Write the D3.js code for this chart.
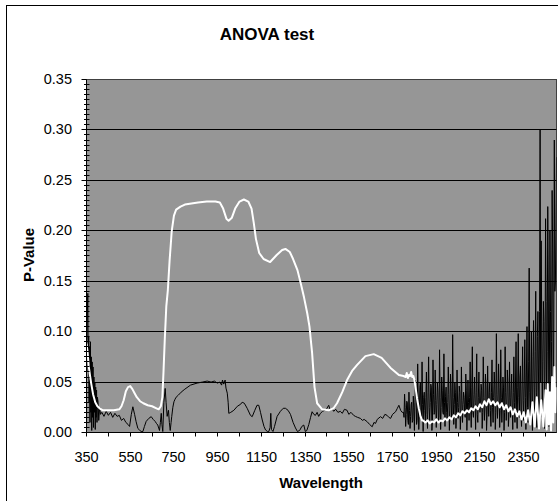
<!DOCTYPE html>
<html><head><meta charset="utf-8">
<script src="https://cdn.jsdelivr.net/npm/d3@7"></script>
<style>
html,body{margin:0;padding:0;background:#fff;}
svg{display:block;}
text{font-family:"Liberation Sans",Arial,sans-serif;fill:#000;}
</style></head>
<body><svg id="c" width="558" height="501"></svg>
<script>
// ---------------- data ----------------
const chartTitle = "ANOVA test";
const xTitle = "Wavelength";
const yTitle = "P-Value";
const xTickValues = [350,450,550,650,750,850,950,1050,1150,1250,1350,1450,1550,1650,1750,1850,1950,2050,2150,2250,2350,2450];
const xTickLabels = [350,550,750,950,1150,1350,1550,1750,1950,2150,2350];
const yTickValues = [0,0.05,0.10,0.15,0.20,0.25,0.30,0.35];
const yGridValues = [0.05,0.10,0.15,0.20,0.25,0.30];

// white series
const whiteWl = [350,355,360,365,372,380,390,400,410,425,450,475,500,510,520,530,540,550,560,570,580,595,610,630,650,670,680,690,697,702,708,715,722,730,740,750,760,780,800,830,860,900,940,960,975,990,1000,1015,1030,1050,1070,1090,1105,1115,1125,1140,1160,1190,1220,1245,1260,1280,1295,1315,1330,1345,1360,1370,1382,1393,1405,1428,1458,1480,1496,1520,1542,1565,1588,1626,1664,1700,1741,1779,1800,1810,1815,1820,1825,1830,1835,1840,1845,1850,1855,1862,1870,1878,1885,
1890,1900,1910,1920,1930,1940,1950,1960,1970,1980,1990,2000,2010,2020,2030,2040,2050,2060,2070,2080,2090,2100,2110,2120,2130,2140,2150,2160,2170,2180,2190,2200,2210,2220,2230,2240,2250,2260,2270,2280,2290,2300,2310,2320,2330,2340,2350,2360,2370,2380,2390,2400,2410,2420,2430,2440,2450,2455,2460,2465,2470,2475,2480,2485,2490,2495,2500];
const whiteP = [0.088,0.080,0.066,0.058,0.048,0.038,0.030,0.026,0.024,0.022,0.022,0.022,0.023,0.026,0.032,0.041,0.045,0.046,0.043,0.039,0.035,0.031,0.029,0.027,0.026,0.024,0.023,0.026,0.035,0.059,0.092,0.125,0.141,0.170,0.200,0.215,0.221,0.224,0.226,0.227,0.228,0.229,0.229,0.228,0.222,0.212,0.210,0.213,0.222,0.229,0.231,0.229,0.222,0.208,0.192,0.178,0.172,0.169,0.176,0.181,0.182,0.179,0.172,0.161,0.148,0.134,0.118,0.105,0.079,0.045,0.029,0.023,0.022,0.024,0.029,0.040,0.052,0.061,0.067,0.0757,0.0777,0.074,0.064,0.057,0.056,0.055,0.059,0.054,0.057,0.056,0.060,0.055,0.056,0.052,0.045,0.034,0.024,0.016,0.012,
0.012,0.010,0.012,0.009,0.011,0.010,0.013,0.010,0.012,0.011,0.014,0.012,0.015,0.013,0.017,0.015,0.019,0.017,0.021,0.019,0.022,0.020,0.024,0.022,0.026,0.023,0.028,0.025,0.031,0.027,0.033,0.028,0.031,0.027,0.030,0.025,0.029,0.023,0.027,0.021,0.025,0.018,0.023,0.016,0.021,0.013,0.020,0.010,0.022,0.008,0.030,0.006,0.035,0.004,0.032,0.006,0.042,0.003,0.048,0.008,0.040,0.002,0.055,0.010,0.065,0.020,0.045];

// black series: smoother part
const blackWlA = [350,352,354,356,358,360,362,364,366,368,370,372,374,376,378,380,382,384,386,388,390,392,394,396,398,400,403,406,410,414,420,430,440,450,460,470,480,490,500,510,520,530,540,547,555,562,570,577,585,592,600,608,615,623,635,646,655,664,670,676,684,688,692,695,699,704,710,714,719,725,729,733,737,740,745,750,755,760,770,783,800,826,856,880,902,920,935,948,960,968,972,978,984,988,994,998,1001,1010,1024,1040,1055,1062,1072,1085,1100,1108,1120,1130,1138,1146,1154,1162,1169,1178,1184,1190,1193,1196,1203,1210,1222,1237,1250,1260,1272,1283,1295,1306,1315,1325,1335,1344,1351,1358,1367,1375,1382,1390,1397,1405,1412,1420,1430,1443,1450,1458,1465,1473,1481,1490,1500,1511,1520,1530,1542,1550,1560,1572,1580,1590,1603,1612,1620,1634,1645,1657,1665,1672,1680,1695,1705,1715,1725,1733,1741,1750,1764,1772,1779,1787,1794];
const blackPA = [0.090,0.095,0.120,0.138,0.060,0.095,0.030,0.085,0.010,0.090,0.020,0.075,0.002,0.070,0.015,0.065,0.005,0.055,0.020,0.050,0.003,0.045,0.015,0.042,0.010,0.035,0.030,0.012,0.025,0.018,0.020,0.016,0.021,0.017,0.020,0.015,0.019,0.016,0.017,0.012,0.014,0.010,0.008,0.006,0.018,0.0255,0.018,0.0107,0.004,0.0025,0.001,0.001,0.006,0.011,0.014,0.0157,0.013,0.011,0.009,0.0074,0.002,0.010,0.019,0.008,0.001,0.030,0.0437,0.030,0.016,0.022,0.010,0.002,0.010,0.016,0.025,0.0305,0.033,0.035,0.037,0.040,0.043,0.047,0.049,0.050,0.051,0.050,0.051,0.049,0.050,0.047,0.052,0.048,0.052,0.044,0.039,0.030,0.019,0.020,0.022,0.026,0.028,0.030,0.029,0.024,0.017,0.0157,0.022,0.027,0.027,0.020,0.0124,0.006,0.0025,0.001,0.001,0.005,0.019,0.003,0.001,0.006,0.016,0.021,0.024,0.024,0.022,0.018,0.010,0.0045,0.001,0.002,0.006,0.0074,0.001,0.002,0.008,0.015,0.0206,0.018,0.017,0.020,0.016,0.019,0.021,0.0223,0.024,0.027,0.022,0.024,0.021,0.023,0.020,0.021,0.019,0.023,0.022,0.018,0.020,0.017,0.016,0.015,0.014,0.012,0.013,0.0107,0.008,0.0057,0.010,0.009,0.013,0.0157,0.014,0.018,0.017,0.015,0.014,0.018,0.0206,0.024,0.027,0.022,0.020];
// black series: noisy part, readings every 5 nm from 1800 to 2500
const blackNoiseStart = 1800, blackNoiseStep = 5;
const blackPB = [
0.020,0.038,0.006,0.031,0.012,0.040,0.004,0.028,0.010,0.036,0.002,
0.052,0.008,0.068,0.003,0.045,0.015,0.070,0.001,0.040,0.010,
0.060,0.004,0.075,0.012,0.048,0.002,0.072,0.018,0.062,0.005,
0.050,0.010,0.082,0.003,0.055,0.020,0.078,0.006,0.045,0.012,
0.065,0.002,0.058,0.015,0.097,0.008,0.050,0.004,0.062,0.014,
0.046,0.003,0.065,0.010,0.040,0.018,0.058,0.002,0.052,0.012,
0.070,0.005,0.085,0.015,0.055,0.003,0.078,0.010,0.060,0.020,
0.048,0.004,0.075,0.012,0.058,0.002,0.066,0.016,0.050,0.006,
0.072,0.010,0.060,0.003,0.098,0.014,0.068,0.005,0.082,0.010,
0.055,0.002,0.085,0.012,0.062,0.006,0.070,0.015,0.058,0.003,
0.075,0.010,0.090,0.004,0.098,0.015,0.066,0.006,0.085,0.012,
0.092,0.003,0.105,0.010,0.163,0.008,0.100,0.002,0.111,0.015,
0.140,0.005,0.120,0.010,0.300,0.190,0.015,0.130,0.004,0.212,
0.020,0.224,0.006,0.200,0.030,0.240,0.010,0.290,0.150,0.273];
// black series: in-between readings of the noisy part, 1802.5 to 2497.5
const blackMidStart = 1802.5;
const blackPBmid = [
0.015,0.025,0.018,0.030,0.008,0.022,0.016,0.030,0.012,0.025,
0.030,0.040,0.012,0.035,0.020,0.050,0.015,0.028,0.035,0.022,
0.035,0.018,0.040,0.025,0.030,0.045,0.012,0.038,0.020,0.032,
0.028,0.040,0.015,0.035,0.025,0.042,0.018,0.030,0.036,0.020,
0.030,0.038,0.022,0.045,0.015,0.035,0.028,0.040,0.020,0.030,
0.025,0.040,0.018,0.032,0.028,0.035,0.015,0.042,0.022,0.030,
0.035,0.025,0.045,0.020,0.038,0.030,0.040,0.018,0.035,0.028,
0.030,0.042,0.020,0.035,0.025,0.045,0.018,0.032,0.040,0.022,
0.040,0.025,0.035,0.048,0.020,0.038,0.030,0.045,0.022,0.035,
0.030,0.045,0.020,0.040,0.028,0.050,0.018,0.035,0.042,0.025,
0.040,0.030,0.050,0.022,0.045,0.035,0.055,0.020,0.048,0.032,
0.050,0.035,0.060,0.025,0.070,0.040,0.055,0.030,0.075,0.045,
0.080,0.040,0.095,0.060,0.120,0.050,0.100,0.070,0.110,0.060,
0.130,0.080,0.150,0.060,0.120,0.090,0.180,0.100,0.140,0.200];

// ---------------- drawing ----------------
const svg = d3.select("#c");
const L = 86.5, R = 556.5, T = 79.5, B = 432.5;
const x = d3.scaleLinear().domain([350, 2500]).range([L, R]);
const y = d3.scaleLinear().domain([0, 0.35]).range([B, T]);
const py = v => Math.floor(y(v)) + 0.5;

// chart frame
svg.append("rect").attr("x",6.5).attr("y",5.5).attr("width",620).attr("height",620)
  .attr("fill","#fff").attr("stroke","#000").attr("stroke-width",1);

// plot area
svg.append("rect").attr("x",L).attr("y",T).attr("width",R-L).attr("height",B-T)
  .attr("fill","#969696").attr("stroke","#404040").attr("stroke-width",1);

// gridlines
svg.append("g").selectAll("line").data(yGridValues).join("line")
  .attr("x1",L).attr("x2",R)
  .attr("y1",d=>py(d)).attr("y2",d=>py(d))
  .attr("stroke","#000").attr("stroke-width",1);

// series
const clipId = "plotclip";
svg.append("clipPath").attr("id",clipId).append("rect")
  .attr("x",L).attr("y",T-1).attr("width",R-L).attr("height",B-T+1);

const noisy = blackPB.map((v,i)=>[blackNoiseStart + i*blackNoiseStep, v])
  .concat(blackPBmid.map((v,i)=>[blackMidStart + i*blackNoiseStep, v]))
  .sort((a,b)=>a[0]-b[0]);
const blackData = blackWlA.map((w,i)=>[w, blackPA[i]]).concat(noisy);
const whiteData = whiteWl.map((w,i)=>[w, whiteP[i]]);
const line = d3.line().x(d=>x(d[0])).y(d=>y(d[1]));

const gS = svg.append("g").attr("clip-path",`url(#${clipId})`);
gS.append("path").datum(blackData).attr("d",line)
  .attr("fill","none").attr("stroke","#000").attr("stroke-width",1).attr("stroke-linejoin","miter");
gS.append("path").datum(whiteData).attr("d",line)
  .attr("fill","none").attr("stroke","#fff").attr("stroke-width",2).attr("stroke-linejoin","round");

// y axis
const yAxis = d3.axisLeft(y).tickValues(yTickValues).tickSize(5)
  .tickFormat(d3.format(".2f")).tickPadding(10);
const gy = svg.append("g").attr("transform",`translate(${L},0)`).call(yAxis);
gy.select(".domain").attr("d",`M0,${T}V${B}`).attr("stroke","#000");
gy.selectAll(".tick").attr("transform",d=>`translate(0,${py(d)})`);
gy.selectAll(".tick line").attr("stroke","#000").attr("x1",0).attr("x2",-5);
gy.selectAll(".tick text").attr("font-size","14.5px").attr("font-family","Liberation Sans, Arial, sans-serif")
  .attr("x",-14.5);
// minor ticks every 0.005
const minor = d3.range(0, 71).map(i=>i*0.005).filter(v=>Math.round(v*1000)%50!==0);
svg.append("g").selectAll("line").data(minor).join("line")
  .attr("x1",L-2.5).attr("x2",L+3)
  .attr("y1",d=>py(d)).attr("y2",d=>py(d))
  .attr("stroke","#000").attr("stroke-width",1);

// x axis
const xAxis = d3.axisBottom(x).tickValues(xTickValues).tickSize(4).tickPadding(5)
  .tickFormat(d=>xTickLabels.includes(d)?String(d):"");
const gx = svg.append("g").attr("transform",`translate(0,${B})`).call(xAxis);
gx.select(".domain").attr("d",`M${L},0H${R}`).attr("stroke","#000");
gx.selectAll(".tick").attr("transform",d=>`translate(${Math.floor(x(d))+0.5},0)`);
gx.selectAll(".tick line").attr("stroke","#000").attr("y1",0);
gx.selectAll(".tick text").attr("font-size","14.5px").attr("font-family","Liberation Sans, Arial, sans-serif")
  .attr("dy",null).attr("y",29).attr("dominant-baseline","auto");

// titles
svg.append("text").attr("x",267).attr("y",39.5).attr("text-anchor","middle")
  .attr("font-size","17px").attr("font-weight","bold").text(chartTitle);
svg.append("text").attr("x",321).attr("y",488).attr("text-anchor","middle")
  .attr("font-size","15px").attr("font-weight","bold").text(xTitle);
svg.append("text").attr("transform","translate(33.5,255) rotate(-90)").attr("text-anchor","middle")
  .attr("font-size","15px").attr("font-weight","bold").text(yTitle);
</script>
</body></html>
